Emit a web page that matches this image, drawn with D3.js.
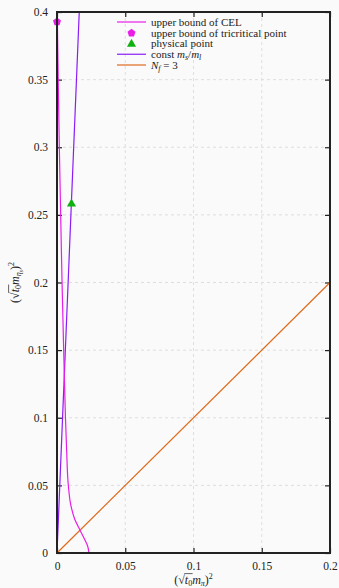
<!DOCTYPE html>
<html>
<head>
<meta charset="utf-8">
<script src="https://cdn.jsdelivr.net/npm/d3@7"></script>
<style>
  body { margin: 0; background: #fafafa; }
  svg text { font-family: 'Liberation Serif', 'Times New Roman', 'DejaVu Serif', serif; }
  .grid line { stroke: #dedede; stroke-dasharray: 3,3; }
</style>
</head>
<body>
<svg width="339" height="588"></svg>
<script>
// upper bound of CEL (y, x pairs)
const celY = [0, 0.005, 0.01, 0.017, 0.025, 0.035, 0.05, 0.075, 0.1, 0.15, 0.2, 0.25, 0.3, 0.35, 0.4]
const celX = [0.0234, 0.0225, 0.0203, 0.0168, 0.013, 0.0102, 0.0083, 0.0071, 0.0062, 0.0049, 0.0037, 0.0027, 0.0017, 0.0009, 0.0002]
// const ms/ml line
const constX = [0, 0.0163]
const constY = [0, 0.4]
// Nf = 3 line
const nf3X = [0, 0.2]
const nf3Y = [0, 0.2]
const tricritical = [0, 0.3928]
const physical = [0.0106, 0.2585]
const xTicks = [0, 0.05, 0.1, 0.15, 0.2]
const yTicks = [0, 0.05, 0.1, 0.15, 0.2, 0.25, 0.3, 0.35, 0.4]

const svg = d3.select('svg')
const margin = {top: 12, right: 9, bottom: 35, left: 57}
const width = +svg.attr('width') - margin.left - margin.right
const height = +svg.attr('height') - margin.top - margin.bottom
const g = svg.append('g').attr('transform', `translate(${margin.left},${margin.top})`)

const x = d3.scaleLinear().domain([0, 0.2]).range([0, width])
const y = d3.scaleLinear().domain([0, 0.4]).range([height, 0])

// grid
g.append('g').attr('class', 'grid')
  .selectAll('line').data(xTicks.slice(1, -1)).join('line')
  .attr('x1', (d) => x(d)).attr('x2', (d) => x(d)).attr('y1', 0).attr('y2', height)
g.append('g').attr('class', 'grid')
  .selectAll('line').data(yTicks.slice(1, -1)).join('line')
  .attr('y1', (d) => y(d)).attr('y2', (d) => y(d)).attr('x1', 0).attr('x2', width)

// axes, ticks drawn inward on all four sides
const fmt = (d) => d3.format('')(d)
const axStyle = (sel) => {
  sel.attr('font-family', null)
  sel.select('.domain').remove()
  sel.selectAll('line').attr('stroke', '#222').attr('stroke-width', 1.2)
  sel.selectAll('text').attr('font-size', 11.5).attr('fill', '#222')
}
g.append('g').attr('transform', `translate(0,${height})`)
  .call(d3.axisBottom(x).tickValues(xTicks).tickFormat(fmt).tickSizeInner(-5).tickPadding(9))
  .call(axStyle)
g.append('g')
  .call(d3.axisLeft(y).tickValues(yTicks).tickFormat(fmt).tickSizeInner(-5).tickPadding(9))
  .call(axStyle)
g.append('g')
  .call(d3.axisTop(x).tickValues(xTicks).tickFormat('').tickSizeInner(-5))
  .call(axStyle)
g.append('g').attr('transform', `translate(${width},0)`)
  .call(d3.axisRight(y).tickValues(yTicks).tickFormat('').tickSizeInner(-5))
  .call(axStyle)

// lines
const line = d3.line().x((d) => x(d[0])).y((d) => y(d[1]))
g.append('path')
  .datum(nf3X.map((v, i) => [v, nf3Y[i]]))
  .attr('fill', 'none').attr('stroke', '#e0691a').attr('stroke-width', 1.2)
  .attr('d', line)
g.append('path')
  .datum(constX.map((v, i) => [v, constY[i]]))
  .attr('fill', 'none').attr('stroke', '#8a1cf5').attr('stroke-width', 1.2)
  .attr('d', line)
g.append('path')
  .datum(celX.map((v, i) => [v, celY[i]]))
  .attr('fill', 'none').attr('stroke', '#e81ee8').attr('stroke-width', 1.2)
  .attr('d', line.curve(d3.curveMonotoneY))

// points
const pent = (cx, cy, r) => d3.range(5).map((i) => {
  const a = -Math.PI / 2 + i * 2 * Math.PI / 5
  return [cx + r * Math.cos(a), cy + r * Math.sin(a)]
})
g.append('polygon')
  .attr('points', pent(x(tricritical[0]), y(tricritical[1]), 4.2).join(' '))
  .attr('fill', '#e81ee8')
g.append('path')
  .attr('transform', `translate(${x(physical[0])},${y(physical[1]) + 0.5})`)
  .attr('d', d3.symbol().type(d3.symbolTriangle).size(36))
  .attr('fill', '#10b010')

// frame
g.append('rect').attr('width', width).attr('height', height)
  .attr('fill', 'none').attr('stroke', '#222').attr('stroke-width', 2)

// legend
const legend = [
  {label: 'upper bound of CEL', kind: 'line', color: '#e81ee8'},
  {label: 'upper bound of tricritical point', kind: 'pent', color: '#e81ee8'},
  {label: 'physical point', kind: 'tri', color: '#10b010'},
  {label: 'const', kind: 'line', color: '#8a1cf5'},
  {label: 'Nf', kind: 'line', color: '#e0691a'}
]
const lg = svg.append('g').attr('transform', 'translate(117,22)')
const rows = lg.selectAll('g').data(legend).join('g')
  .attr('transform', (d, i) => `translate(0,${i * 10.75})`)
rows.filter((d) => d.kind === 'line').append('line')
  .attr('x1', 0).attr('x2', 29).attr('stroke', (d) => d.color).attr('stroke-width', 1.2)
rows.filter((d) => d.kind === 'pent').append('polygon')
  .attr('points', pent(14.5, 0.3, 4.2).join(' ')).attr('fill', (d) => d.color)
rows.filter((d) => d.kind === 'tri').append('path')
  .attr('transform', 'translate(14.5,0.5)')
  .attr('d', d3.symbol().type(d3.symbolTriangle).size(36)).attr('fill', (d) => d.color)
const lt = rows.append('text').attr('x', 34).attr('y', 3.8).attr('font-size', 11).attr('fill', '#222')
lt.filter((d) => d.label !== 'const' && d.label !== 'Nf').text((d) => d.label)
const c = lt.filter((d) => d.label === 'const')
c.append('tspan').text('const ')
c.append('tspan').attr('font-style', 'italic').text('m')
c.append('tspan').attr('font-style', 'italic').attr('font-size', 8).attr('dy', 2).text('s')
c.append('tspan').attr('dy', -2).text('/')
c.append('tspan').attr('font-style', 'italic').text('m')
c.append('tspan').attr('font-style', 'italic').attr('font-size', 8).attr('dy', 2).text('l')
const n = lt.filter((d) => d.label === 'Nf')
n.append('tspan').attr('font-style', 'italic').text('N')
n.append('tspan').attr('font-style', 'italic').attr('font-size', 8).attr('dy', 2).text('f')
n.append('tspan').attr('dy', -2).text(' = 3')

// axis titles with square roots; the bar over t0 is drawn after layout
function sqrtLabel (sel, sub, subsub) {
  sel.append('tspan').text('(')
  sel.append('tspan').text('√')
  sel.append('tspan').attr('class', 'rad').attr('font-style', 'italic').text('t')
  sel.append('tspan').attr('class', 'rad').attr('font-size', 8).attr('dy', 2).text('0')
  sel.append('tspan').attr('dy', -2).attr('font-style', 'italic').text('m')
  sel.append('tspan').attr('font-style', 'italic').attr('font-size', 8).attr('dy', 2).text(sub)
  if (subsub) sel.append('tspan').attr('font-style', 'italic').attr('font-size', 6).attr('dy', 1.5).text(subsub)
  sel.append('tspan').attr('dy', subsub ? -3.5 : -2).text(')')
  sel.append('tspan').attr('font-size', 8).attr('dy', -5).text('2')
  // overline across the radicand
  const node = sel.node()
  const rads = sel.selectAll('.rad').nodes()
  const n0 = [...node.childNodes].indexOf(rads[0])
  let chars = 0
  for (let i = 0; i < n0; i++) chars += node.childNodes[i].textContent.length
  const a = node.getExtentOfChar(chars)
  const b = node.getExtentOfChar(chars + 1)
  const p = node.parentNode.appendChild(document.createElementNS('http://www.w3.org/2000/svg', 'line'))
  d3.select(p)
    .attr('transform', sel.attr('transform'))
    .attr('x1', a.x - 0.5).attr('x2', b.x + b.width + 0.5)
    .attr('y1', a.y + 0.6).attr('y2', a.y + 0.6)
    .attr('stroke', '#222').attr('stroke-width', 0.7)
}
svg.append('text')
  .attr('x', margin.left + width / 2).attr('y', 584)
  .attr('text-anchor', 'middle').attr('font-size', 12).attr('fill', '#222')
  .call(sqrtLabel, 'π')
svg.append('text')
  .attr('transform', `translate(19,${margin.top + height / 2}) rotate(-90)`)
  .attr('text-anchor', 'middle').attr('font-size', 12).attr('fill', '#222')
  .call(sqrtLabel, 'η', 's')
</script>
</body>
</html>
